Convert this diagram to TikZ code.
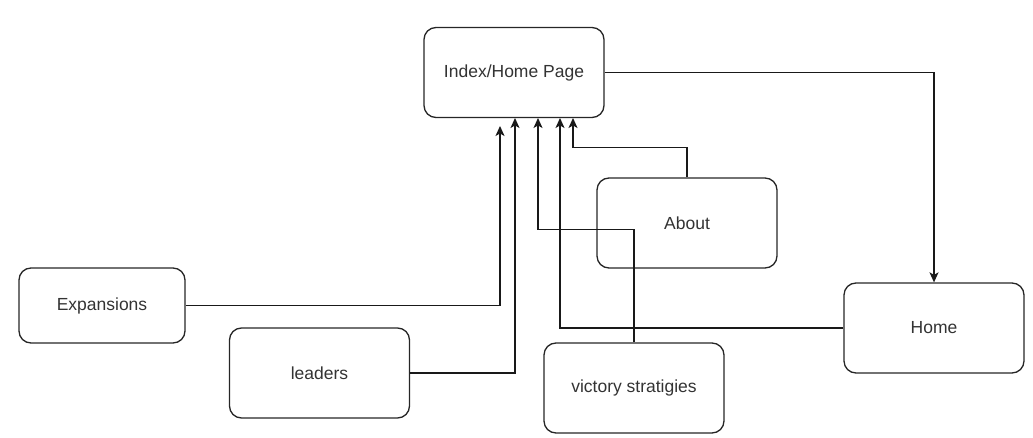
\documentclass[tikz,border=0pt]{standalone}
\usepackage{fontspec}
\setmainfont{Liberation Sans}
\usetikzlibrary{arrows.meta}

\begin{document}
\begin{tikzpicture}[
    x = 1pt,
    y = -1pt,
    line width = 1.3pt,
    >={Stealth[length=10pt, width=9pt, inset=2.5pt]},
    page/.style = {
      draw = black!85,
      rounded corners = 12pt,
      minimum width = 180pt,
      minimum height = 90pt,
      inner sep = 0pt,
      text = black!80,
      font = \fontsize{17.5}{20}\selectfont
    },
    link/.style = {
      draw = black!90,
      ->
    }
  ]
  \useasboundingbox (0,0) rectangle (1033,438);

  \node[page] (index)   at (514,72.5)   {Index/Home Page};
  \node[page, minimum width = 166pt, minimum height = 75pt] (exp) at (102,305.5) {Expansions};
  \node[page] (leaders) at (319.5,373)  {leaders};
  \node[page] (about)   at (687,223)    {About};
  \node[page] (victory) at (634,388)    {victory stratigies};
  \node[page] (home)    at (934,328)    {Home};

  \coordinate (inA) at (500,126);
  \coordinate (inB) at (515,118);
  \coordinate (inC) at (538,118);
  \coordinate (inD) at (560,118);
  \coordinate (inE) at (573,118);

  \draw[link] (index.east) -| (home.north);

  \draw[link] (exp.east) -| (inA);
  \draw[link] (leaders.east) -| (inB);
  \draw[link] (victory.north) -- ++(0,-113) -| (inC);
  \draw[link] (home.west) -| (inD);
  \draw[link] (about.north) -- ++(0,-30) -| (inE);
\end{tikzpicture}
\end{document}
